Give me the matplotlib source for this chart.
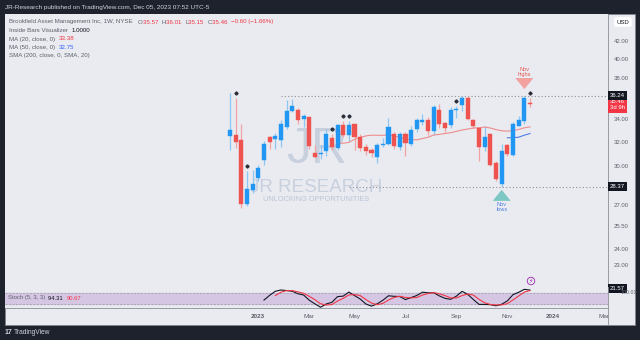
import numpy as np
import pandas as pd
import matplotlib
matplotlib.use('Agg')
import matplotlib.pyplot as plt
from matplotlib.patches import Rectangle
from matplotlib.lines import Line2D

plt.rcParams['font.family'] = ['Liberation Sans', 'DejaVu Sans']

# weekly bars, week of 2022-11-28 .. week of 2023-12-04
opens = [32.5, 32.6, 32.2, 27.1, 28.1, 29.0, 30.5, 32.45, 32.25, 32.2,
         33.3, 34.75, 34.85, 34.0, 34.2, 31.05, 30.95, 31.2, 32.35, 31.5,
         33.5, 32.6, 33.55, 32.4, 31.6, 31.3, 30.75, 31.7, 31.85, 32.7,
         31.55, 32.65, 31.8, 33.1, 33.8, 33.9, 32.98, 34.9, 33.65, 33.45,
         34.85, 35.3, 36.0, 33.95, 33.2, 31.6, 32.7, 30.2, 28.6, 31.7,
         30.85, 33.35, 33.85, 35.57]
highs = [36.5, 36.0, 33.6, 29.6, 29.7, 30.05, 32.1, 32.5, 32.8, 33.9,
         35.8, 35.95, 35.05, 34.5, 34.25, 31.7, 31.7, 33.15, 32.7, 33.6,
         33.85, 33.85, 33.6, 32.7, 31.8, 31.5, 31.9, 32.3, 34.1, 32.85,
         32.85, 32.85, 33.4, 34.1, 34.5, 34.2, 35.3, 35.4, 33.8, 35.1,
         35.25, 36.2, 36.2, 34.0, 33.3, 33.35, 32.75, 30.4, 31.85, 31.85,
         33.75, 34.3, 36.24, 36.01]
lows = [31.3, 31.5, 26.8, 26.9, 27.9, 28.8, 30.1, 31.4, 31.35, 31.6,
        33.1, 34.7, 33.6, 33.3, 31.4, 30.65, 30.55, 30.8, 31.3, 31.3,
        32.45, 32.1, 31.3, 31.2, 30.9, 30.7, 30.2, 31.6, 31.7, 31.4,
        31.3, 30.8, 31.65, 32.9, 33.5, 32.6, 32.6, 33.2, 32.9, 33.2,
        34.1, 34.8, 33.9, 33.2, 30.4, 31.2, 29.95, 28.8, 28.37, 30.8,
        30.8, 33.35, 33.6, 35.15]
closes = [33.05, 32.0, 27.1, 28.2, 28.6, 29.8, 31.85, 32.0, 32.5, 33.6,
          34.75, 35.2, 33.95, 34.3, 31.65, 30.7, 31.05, 32.7, 31.55, 33.5,
          32.6, 33.5, 32.4, 31.5, 31.25, 31.05, 31.75, 31.85, 33.3, 31.65,
          32.65, 31.9, 33.05, 33.9, 33.9, 32.95, 35.1, 33.6, 33.2, 34.85,
          34.95, 36.0, 34.05, 33.35, 31.6, 32.4, 30.05, 28.97, 31.25, 31.0,
          33.6, 33.95, 36.05, 35.46]
inside_marks = [1, 3, 18, 20, 21, 40, 53]

level_prices = [36.24, 28.37]
level_starts = [9, 21]

month_pos = [5, 14, 22, 31, 40, 49, 57, 66]
month_labels = ['2023', 'Mar', 'May', 'Jul', 'Sep', 'Nov', '2024', 'Mar']
price_ticks = [23, 24, 25.5, 27, 30, 32, 34, 38, 40, 42]

BG = '#e9ebf0'
UP = '#2196f3'
DN = '#ef5350'
UPW = '#8cc6f2'
DNW = '#f2a3a3'
GRAY = '#5d606b'

o = np.array(opens); h = np.array(highs); l = np.array(lows); c = np.array(closes)
x = np.arange(len(c))
up = c >= o

ma20 = pd.Series(c).rolling(20).mean()
ma50 = pd.Series(c).rolling(50).mean()
hh = pd.Series(h).rolling(5).max()
ll = pd.Series(l).rolling(5).min()
k = (100 * (pd.Series(c) - ll) / (hh - ll)).rolling(3).mean()
d = k.rolling(3).mean()

fig = plt.figure(figsize=(6.4, 3.4), dpi=100, facecolor='#1e222d')
W, H = 640.0, 340.0
def fx(px): return px / W
def fy(py): return 1 - py / H

fig.patches.append(Rectangle((fx(5), fy(325)), fx(630), 311 / H, transform=fig.transFigure,
                             facecolor=BG, edgecolor='#80838c', lw=0.6, zorder=-5))

ax = fig.add_axes([fx(5), fy(287), fx(603), 273 / H])
sx = fig.add_axes([fx(5), fy(308), fx(603), 21 / H], sharex=ax)
for a in (ax, sx):
    a.set_facecolor(BG)
    for s in ('top', 'left'):
        a.spines[s].set_visible(False)
    a.spines['right'].set_color('#8a8e98')
    a.spines['bottom'].set_color('#8a8e98')
    a.spines['right'].set_linewidth(0.6)
    a.spines['bottom'].set_linewidth(0.6)

xl = (-39.75, 66.78)
ax.set_xlim(*xl)
ax.set_yscale('log')
ax.set_ylim(21.66, 45.13)

# watermark, behind the candles
wm = '#b3bed3'
ax.text(fx(317), fy(150), 'JR', transform=fig.transFigure, fontsize=36, color=wm, alpha=0.6,
        ha='center', va='center', zorder=1)
ax.text(fx(316), fy(187), 'JR RESEARCH', transform=fig.transFigure, fontsize=13.5, color=wm,
        alpha=0.6, ha='center', va='center', zorder=1)
ax.text(fx(316), fy(199.5), 'UNLOCKING OPPORTUNITIES', transform=fig.transFigure, fontsize=5.3,
        color=wm, alpha=0.85, ha='center', va='center', zorder=1)

# candles
ax.vlines(x[up], l[up], h[up], color=UPW, lw=0.9, zorder=2)
ax.vlines(x[~up], l[~up], h[~up], color=DNW, lw=0.9, zorder=2)
bot = np.minimum(o, c)
hgt = np.abs(c - o)
ax.bar(x[up], hgt[up], bottom=bot[up], width=0.72, color=UP, edgecolor=UP, lw=0.3, zorder=3)
ax.bar(x[~up], hgt[~up], bottom=bot[~up], width=0.72, color=DN, edgecolor=DN, lw=0.3, zorder=3)

ax.plot(x, ma20, color='#ee8c8c', lw=0.8, zorder=2)
ax.plot(x, ma50, color='#4f7fe6', lw=0.8, zorder=2)

ax.plot(x[inside_marks], h[inside_marks] * 1.013, linestyle='none', marker='D',
        ms=1.6, color='#2a2e39', zorder=4)

for p, s in zip(level_prices, level_starts):
    ax.hlines(p, s, xl[1], colors='#8f929b', linestyles=(0, (1, 2)), lw=0.8, zorder=1.5)

# y axis on right
ax.yaxis.tick_right()
ax.set_yticks(price_ticks)
ax.yaxis.set_minor_locator(matplotlib.ticker.NullLocator())
ax.set_yticklabels([f'{t:.2f}' for t in price_ticks])
ax.tick_params(axis='y', length=0, pad=4, labelsize=4.3, labelcolor=GRAY)
ax.tick_params(axis='x', length=0, labelbottom=False)

yt = ax.get_yaxis_transform()
for p in level_prices + [21.57]:
    ax.text(1.003, p, f'{p:.2f}', transform=yt, ha='left', va='center', fontsize=4.3,
            color='white', clip_on=False, zorder=6,
            bbox=dict(boxstyle='square,pad=0.35', fc='#131722', ec='none'))
ax.text(1.003, c[-1] * 1.012, f'{c[-1]:.2f}\n3d 9h', transform=yt, ha='left', va='top',
        fontsize=4.3, color='white', clip_on=False, linespacing=1.3,
        bbox=dict(boxstyle='square,pad=0.35', fc='#f23645', ec='none'))

# annotations
i_hi = int(np.argmax(h[40:])) + 40
i_lo = int(np.argmin(l[40:])) + 40
arrow = 'simple,head_width=1.3,head_length=0.8,tail_width=0.7'
ax.annotate('', xy=(i_hi, h[i_hi] * 1.01), xytext=(i_hi, h[i_hi] * 1.05),
            arrowprops=dict(arrowstyle=arrow, fc='#f2a0a0', ec='none'))
ax.text(i_hi, h[i_hi] * 1.052, 'Nov\nhighs', ha='center', va='bottom', fontsize=4.0,
        color='#e8554e', linespacing=1.0)
ax.annotate('', xy=(i_lo, l[i_lo] * 0.999), xytext=(i_lo, l[i_lo] * 0.962),
            arrowprops=dict(arrowstyle=arrow, fc='#7cc7c4', ec='none'))
ax.text(i_lo, l[i_lo] * 0.96, 'Nov\nlows', ha='center', va='top', fontsize=4.0,
        color='#4a7be0', linespacing=1.0)

# stochastic pane
sx.axhspan(20, 80, color='#d5c6e3', zorder=0)
sx.axhline(80, color='#9a9aa6', lw=0.5, ls=(0, (3, 2)))
sx.axhline(20, color='#9a9aa6', lw=0.5, ls=(0, (3, 2)))
sx.plot(x, k, color='#131722', lw=0.8)
sx.plot(x, d, color='#f23645', lw=0.8)
sx.set_ylim(2, 108)
sx.set_yticks([])
sx.set_xticks(month_pos)
sx.set_xticklabels(month_labels)
sx.tick_params(axis='x', length=0, pad=4.5, labelsize=4.6, labelcolor=GRAY)
for t in sx.get_xticklabels():
    if t.get_text().isdigit():
        t.set_fontweight('bold')
sx.text(1.02, 82, '100.00', transform=sx.get_yaxis_transform(), fontsize=3.8,
        color=GRAY, ha='left', va='center', clip_on=False)

fig.add_artist(Line2D([fx(608), fx(608)], [fy(308), fy(325)], color='#8a8e98', lw=0.6))

# text rows
renderer = fig.canvas.get_renderer()
def seq_text(px, py, parts, size=4.4):
    cx = fx(px)
    for s, col in parts:
        t = fig.text(cx, fy(py), s, color=col, fontsize=size, ha='left', va='center')
        cx += t.get_window_extent(renderer).width / W

RED = '#f23645'
fig.text(fx(5), fy(7.5), 'JR-Research published on TradingView.com, Dec 05, 2023 07:52 UTC-5',
         color='#d1d4dc', fontsize=4.6, va='center')
seq_text(9, 22, [('Brookfield Asset Management Inc, 1W, NYSE   ', GRAY),
                 ('O', GRAY), ('35.57  ', RED), ('H', GRAY), ('36.01  ', RED),
                 ('L', GRAY), ('35.15  ', RED), ('C', GRAY), ('35.46  ', RED),
                 ('\u22120.60 (\u22121.66%)', RED)])
seq_text(9, 30.5, [('Inside Bars Visualizer  ', GRAY), ('1.0000', '#131722')])
seq_text(9, 39, [('MA (20, close, 0)  ', GRAY), ('33.38', RED)])
seq_text(9, 47.5, [('MA (50, close, 0)  ', GRAY), ('32.75', '#2962ff')])
seq_text(9, 56, [('SMA (200, close, 0, SMA, 20)', GRAY)])
seq_text(8, 298, [('Stoch (5, 3, 3)  ', GRAY), ('94.31  ', '#131722'), ('90.67', RED)], size=4.2)

fig.text(fx(623), fy(22), 'USD', fontsize=4.3, color='#131722', ha='center', va='center',
         bbox=dict(boxstyle='round,pad=0.4', fc='white', ec='none'))
fig.text(fx(531), fy(281), '\u26a1', family=['DejaVu Sans'], fontsize=4.5, color='#9c27b0',
         ha='center', va='center',
         bbox=dict(boxstyle='circle,pad=0.2', fc=BG, ec='#9c27b0', lw=0.6))

fig.text(fx(5), fy(332.5), '17', color='#d1d4dc', fontsize=5.0, fontweight='bold', va='center')
fig.text(fx(14), fy(332.5), 'TradingView', color='#d1d4dc', fontsize=4.8, va='center')

fig.savefig('out.png', dpi=100, facecolor=fig.get_facecolor())
